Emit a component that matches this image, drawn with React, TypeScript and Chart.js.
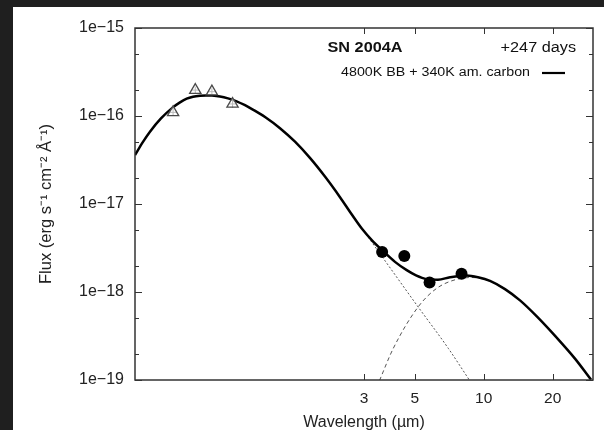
import { useEffect, useRef } from "react";
import { Chart, registerables } from "chart.js";

Chart.register(...registerables);

// ---- Data (wavelength in µm, flux in erg s^-1 cm^-2 Å^-1) ----
const opticalWavelengths = [0.44, 0.55, 0.65, 0.8];
const opticalFlux = [1.1e-16, 1.97e-16, 1.89e-16, 1.37e-16];

const irWavelengths = [3.6, 4.5, 5.8, 8.0];
const irFlux = [2.85e-18, 2.57e-18, 1.28e-18, 1.61e-18];

// total model: 4800K blackbody + 340K amorphous carbon
const modelWavelengths = [
  0.3, 0.3251, 0.3488, 0.3896, 0.4365, 0.4717, 0.5046, 0.5375, 0.5767, 0.6126,
  0.6507, 0.7051, 0.7643, 0.8283, 0.9068, 0.9856, 1.109, 1.289, 1.499, 1.742,
  2.026, 2.357, 2.659, 2.94, 3.251, 3.62, 4.097, 4.61, 5.061, 5.636, 6.312, 7.123,
  8.425, 9.438, 10.65, 12.38, 14.4, 17.09, 20.68, 25.03, 29.4,
];
const modelFlux = [
  3.6e-17, 5.09e-17, 6.64e-17, 9.38e-17, 1.236e-16, 1.427e-16, 1.572e-16, 1.652e-16,
  1.698e-16, 1.712e-16, 1.705e-16, 1.665e-16, 1.585e-16, 1.477e-16, 1.327e-16,
  1.176e-16, 9.74e-17, 7.27e-17, 5.1e-17, 3.34e-17, 2.05e-17, 1.195e-17, 7.54e-18,
  5.23e-18, 3.87e-18, 2.95e-18, 2.2e-18, 1.77e-18, 1.544e-18, 1.401e-18, 1.379e-18,
  1.469e-18, 1.536e-18, 1.469e-18, 1.337e-18, 1.079e-18, 8.03e-19, 5.25e-19,
  3.09e-19, 1.75e-19, 1.01e-19,
];

// 4800K blackbody component (dotted)
const bbWavelengths = [2.659, 3.642, 5.097, 7.002, 8.709];
const bbFlux = [7.6e-18, 2.415e-18, 7.12e-19, 2.29e-19, 9.74e-20];

// 340K amorphous carbon component (dashed)
const dustWavelengths = [3.506, 4.028, 5.18, 6.23, 7.62, 8.886, 10.65, 12.38];
const dustFlux = [9.87e-20, 2.29e-19, 6.81e-19, 1.1e-18, 1.394e-18, 1.461e-18, 1.327e-18, 1.068e-18];

const xTicks = [3, 5, 10, 20];
const yTicks = [1e-19, 1e-18, 1e-17, 1e-16, 1e-15];
const yMinorTicks = [2e-19, 5e-19, 2e-18, 5e-18, 2e-17, 5e-17, 2e-16, 5e-16];

const titleText = "SN 2004A";
const epochText = "+247 days";
const legendText = "4800K BB + 340K am. carbon";
const xTitle = "Wavelength (\u00b5m)";
const yTitle = "Flux (erg s\u207b\u00b9 cm\u207b\u00b2 \u00c5\u207b\u00b9)";

const FONT = "'Liberation Sans', Arial, Helvetica, sans-serif";

function toPoints(xs: number[], ys: number[]) {
  return xs.map((x, i) => ({ x, y: ys[i] }));
}

function stretchedText(
  ctx: CanvasRenderingContext2D,
  text: string,
  x: number,
  y: number,
  align: "left" | "center" | "right",
  font: string,
  sx = 1.16
) {
  ctx.save();
  ctx.font = font;
  ctx.textBaseline = "middle";
  ctx.textAlign = "left";
  ctx.fillStyle = "#111";
  const w = ctx.measureText(text).width * sx;
  const left = align === "left" ? x : align === "center" ? x - w / 2 : x - w;
  ctx.translate(left, y);
  ctx.scale(sx, 1);
  ctx.fillText(text, 0, 0);
  ctx.restore();
}

const framePlugin = {
  id: "gnuplotFrame",
  afterDraw(chart: any) {
    const { ctx, chartArea: a, scales } = chart;
    const xs = scales.x;
    const ys = scales.y;
    ctx.save();
    ctx.strokeStyle = "#333";
    ctx.lineWidth = 1.5;
    ctx.strokeRect(a.left, a.top, a.right - a.left, a.bottom - a.top);
    ctx.lineWidth = 1;
    const line = (x1: number, y1: number, x2: number, y2: number) => {
      ctx.beginPath();
      ctx.moveTo(x1, y1);
      ctx.lineTo(x2, y2);
      ctx.stroke();
    };
    for (const v of xTicks) {
      const px = Math.round(xs.getPixelForValue(v)) + 0.5;
      line(px, a.bottom, px, a.bottom - 6);
      line(px, a.top, px, a.top + 6);
    }
    for (const v of yTicks) {
      const py = Math.round(ys.getPixelForValue(v)) + 0.5;
      line(a.left, py, a.left + 7, py);
      line(a.right, py, a.right - 7, py);
    }
    for (const v of yMinorTicks) {
      const py = Math.round(ys.getPixelForValue(v)) + 0.5;
      line(a.left, py, a.left + 4, py);
      line(a.right, py, a.right - 4, py);
    }
    // annotations
    const cx = (a.left + a.right) / 2 + 1;
    stretchedText(ctx, titleText, cx, a.top + 20, "center", `bold 14px ${FONT}`);
    stretchedText(ctx, epochText, a.right - 17, a.top + 20, "right", `14px ${FONT}`);
    stretchedText(ctx, legendText, a.right - 63, a.top + 45, "right", `12.5px ${FONT}`, 1.14);
    ctx.strokeStyle = "#000";
    ctx.lineWidth = 2.2;
    line(a.right - 51, a.top + 45, a.right - 28, a.top + 45);
    ctx.restore();
  },
};

export default function App() {
  const ref = useRef<HTMLCanvasElement>(null);
  useEffect(() => {
    document.body.style.margin = "0";
    document.body.style.background = "#1f1f1f";
    const canvas = ref.current!;
    const chart = new Chart(canvas, {
      type: "scatter",
      data: {
        datasets: [
          {
            label: "optical",
            data: toPoints(opticalWavelengths, opticalFlux),
            pointStyle: "triangle",
            pointRadius: 6.5,
            pointBorderColor: "#4a4a4a",
            pointBackgroundColor: "rgba(255,255,255,0.6)",
            pointBorderWidth: 1.3,
            showLine: false,
          },
          {
            label: "optical errors",
            data: toPoints(opticalWavelengths, opticalFlux),
            pointStyle: "cross",
            pointRadius: 3.5,
            pointBorderColor: "#555",
            pointBorderWidth: 1,
            showLine: false,
          },
          {
            label: "IRAC",
            data: toPoints(irWavelengths, irFlux),
            pointStyle: "circle",
            pointRadius: 6,
            pointBorderColor: "#000",
            pointBackgroundColor: "#000",
            pointBorderWidth: 0,
            showLine: false,
          },
          {
            label: legendText,
            data: toPoints(modelWavelengths, modelFlux),
            showLine: true,
            borderColor: "#000",
            borderWidth: 2.5,
            pointRadius: 0,
            cubicInterpolationMode: "monotone",
          },
          {
            label: "BB",
            data: toPoints(bbWavelengths, bbFlux),
            showLine: true,
            borderColor: "#555",
            borderWidth: 1,
            borderDash: [2, 2],
            pointRadius: 0,
            cubicInterpolationMode: "monotone",
          },
          {
            label: "dust",
            data: toPoints(dustWavelengths, dustFlux),
            showLine: true,
            borderColor: "#555",
            borderWidth: 1,
            borderDash: [4, 3],
            pointRadius: 0,
            cubicInterpolationMode: "monotone",
          },
        ],
      },
      options: {
        animation: false,
        responsive: false,
        devicePixelRatio: 1,
        layout: { padding: { left: 0, top: 21, right: 11, bottom: 0 } },
        plugins: {
          legend: { display: false },
          tooltip: { enabled: false },
          title: { display: false },
        },
        scales: {
          x: {
            type: "logarithmic",
            min: 0.3,
            max: 30,
            grid: { display: false, drawTicks: false },
            border: { display: false },
            afterBuildTicks: (scale: any) => {
              scale.ticks = xTicks.map((v) => ({ value: v }));
            },
            afterFit: (scale: any) => {
              scale.height = 50;
            },
            ticks: {
              autoSkip: false,
              maxRotation: 0,
              padding: 9,
              color: "#222",
              font: { family: FONT, size: 15.5 },
              callback: (v: any) => String(v),
            },
            title: {
              display: true,
              text: xTitle,
              color: "#222",
              font: { family: FONT, size: 16 },
              padding: { top: 0, bottom: -2 },
            },
          },
          y: {
            type: "logarithmic",
            min: 1e-19,
            max: 1e-15,
            grid: { display: false, drawTicks: false },
            border: { display: false },
            afterBuildTicks: (scale: any) => {
              scale.ticks = yTicks.map((v) => ({ value: v }));
            },
            afterFit: (scale: any) => {
              scale.width = 122;
            },
            ticks: {
              autoSkip: false,
              padding: 11,
              color: "#222",
              font: { family: FONT, size: 16 },
              callback: (v: any) => {
                const e = Math.round(Math.log10(Number(v)));
                return "1e\u2212" + String(-e);
              },
            },
            title: {
              display: true,
              text: yTitle,
              color: "#222",
              font: { family: FONT, size: 16.5 },
              padding: { top: 24, bottom: 0 },
            },
          },
        },
      },
      plugins: [framePlugin],
    } as any);
    return () => chart.destroy();
  }, []);

  return (
    <div
      style={{
        position: "relative",
        width: 604,
        height: 430,
        overflow: "hidden",
        background: "#1f1f1f",
      }}
    >
      <div
        style={{
          position: "absolute",
          left: 13,
          top: 7,
          width: 591,
          height: 423,
          background: "#fff",
        }}
      >
        <canvas ref={ref} width={591} height={423} style={{ display: "block", width: 591, height: 423 }} />
      </div>
    </div>
  );
}
